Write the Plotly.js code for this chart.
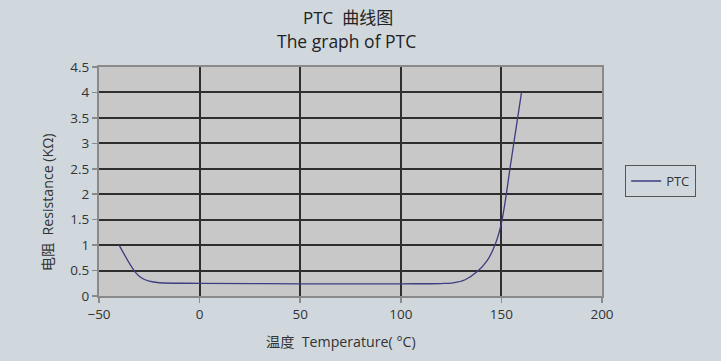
<!DOCTYPE html>
<html><head><meta charset="utf-8">
<script src="https://cdn.plot.ly/plotly-3.0.1.min.js"></script>
<style>html,body{margin:0;padding:0;background:#d0d8de;}</style>
</head><body>
<div id="chart" style="width:721px;height:361px;"></div>
<script>
const temperature = [-40, -32, -29, -25, -20, 0, 50, 100, 120, 126, 132, 138, 143, 147, 150, 155, 160];
const resistance  = [1.0, 0.47, 0.36, 0.29, 0.26, 0.25, 0.24, 0.24, 0.245, 0.26, 0.32, 0.48, 0.7, 1.02, 1.43, 2.7, 4.0];
const seriesName = 'PTC';
const titleLine1 = 'PTC  曲线图';
const titleLine2 = 'The graph of PTC';
const xTitle = '温度  Temperature( °C)';
const yTitle = '电阻  Resistance (KΩ)';

const font = '"Open Sans", "Noto Sans CJK SC", sans-serif';

Plotly.newPlot('chart', [{
  x: temperature, y: resistance, name: seriesName, type: 'scatter', mode: 'lines',
  line: {color: '#3d3d80', width: 1.3, shape: 'spline', smoothing: 1}
}], {
  width: 721, height: 361,
  paper_bgcolor: '#d0d8de', plot_bgcolor: '#c8c8c8',
  margin: {l: 99, r: 119, t: 67, b: 65},
  font: {family: font, size: 13, color: '#333'},
  annotations: [
    {text: titleLine1, xref: 'paper', yref: 'paper', x: 0.495, y: 1.218, xanchor: 'center', yanchor: 'middle', showarrow: false, font: {family: font, size: 17, color: '#222'}},
    {text: titleLine2, xref: 'paper', yref: 'paper', x: 0.493, y: 1.113, xanchor: 'center', yanchor: 'middle', showarrow: false, font: {family: font, size: 17.5, color: '#222'}},
    {text: xTitle, xref: 'paper', yref: 'paper', x: 0.482, y: -0.2, xanchor: 'center', yanchor: 'middle', showarrow: false, font: {family: font, size: 14.2, color: '#333'}},
    {text: yTitle, xref: 'paper', yref: 'paper', x: -0.103, y: 0.41, xanchor: 'center', yanchor: 'middle', showarrow: false, textangle: -90, font: {family: font, size: 14.2, color: '#333'}}
  ],
  showlegend: true,
  legend: {x: 1.046, y: 0.502, xanchor: 'left', yanchor: 'middle', bgcolor: 'rgba(0,0,0,0)', bordercolor: '#555', borderwidth: 1, font: {size: 13, color: '#333'}, itemwidth: 30},
  xaxis: {
    range: [-50, 200], dtick: 50, tick0: -50, showgrid: true, gridcolor: '#2e2e2e', gridwidth: 2,
    zeroline: false, showline: true, linecolor: '#8a8a8a', linewidth: 2, mirror: true,
    ticks: 'outside', ticklen: 5, tickcolor: '#8a8a8a', tickwidth: 1.5, tickfont: {size: 13.5, color: '#333'}
  },
  yaxis: {
    range: [0, 4.5], dtick: 0.5, showgrid: true, gridcolor: '#2e2e2e', gridwidth: 2,
    zeroline: false, showline: true, linecolor: '#8a8a8a', linewidth: 2, mirror: true,
    ticks: 'outside', ticklen: 5, tickcolor: '#8a8a8a', tickwidth: 1.5, tickfont: {size: 13.5, color: '#333'}
  }
}, {displayModeBar: false, staticPlot: true});
</script>
</body></html>
